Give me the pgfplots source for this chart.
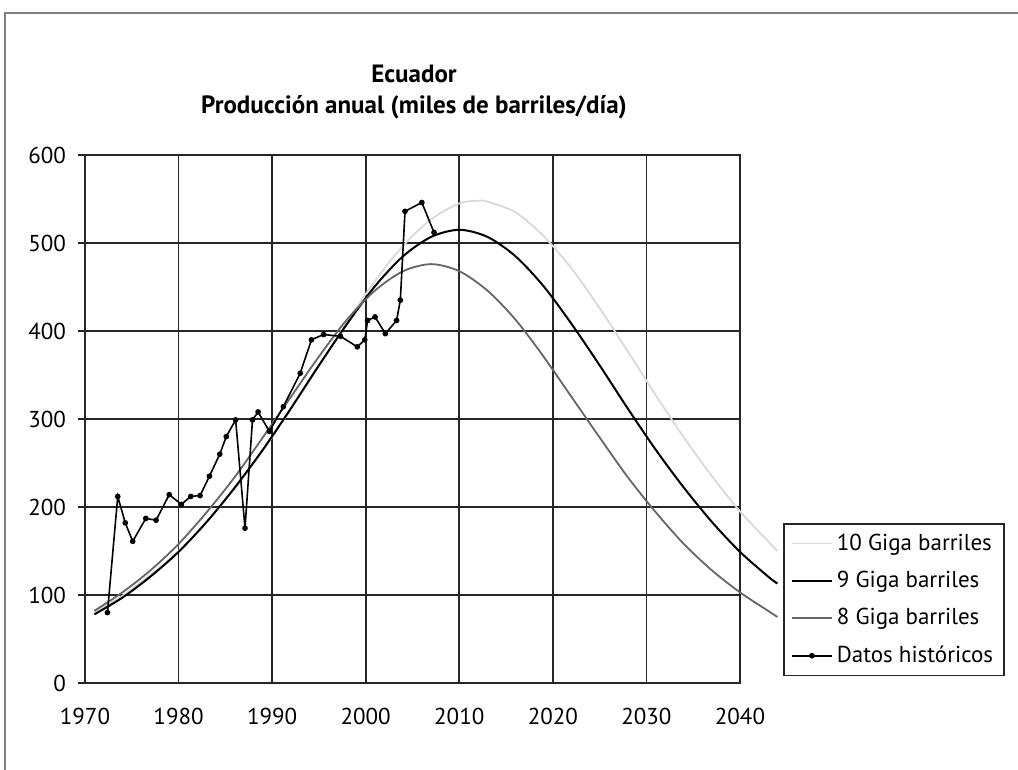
\documentclass[border=0pt]{standalone}
\usepackage{pgfplots}
\pgfplotsset{compat=1.18}
\usepackage{fontspec}
\setmainfont{PT Sans}

% produccion de petroleo, Ecuador (miles de barriles/dia)
\pgfplotstableread{
year prod
1971 80
1974 99
1977 123
1980 150
1983 183
1986 221
1989 264
1992 311
1995 360
1998 410
2001 457
2004 497
2007 527
2010 545
2012 548
2013 547
2016 535
2019 508
2022 471
2025 426
2028 377
2031 327
2034 279
2037 235
2040 195
2043 161
2044 150
}\diezgiga

\pgfplotstableread{
year prod
1971 78
1974 97
1977 121
1980 149
1983 183
1986 222
1989 265
1992 312
1995 361
1998 408
2001 451
2004 485
2007 507
2010 515
2013 507
2016 485
2019 451
2022 408
2025 361
2028 312
2031 265
2034 222
2037 183
2040 149
2043 121
2044 113
}\nuevegiga

\pgfplotstableread{
year prod
1971 82
1974 103
1977 128
1980 158
1983 194
1986 234
1989 279
1992 325
1995 371
1998 413
2001 446
2004 468
2007 476
2010 468
2013 446
2016 413
2019 371
2022 325
2025 279
2028 234
2031 194
2034 158
2037 128
2040 103
2043 82
2044 75
}\ochogiga

\pgfplotstableread{
year prod
1972.4 80
1973.5 212
1974.3 182
1975.1 161
1976.5 187
1977.6 185
1979.0 214
1980.3 203
1981.3 212
1982.3 213
1983.3 235
1984.4 260
1985.1 280
1986.1 299
1987.1 176
1987.9 299
1988.5 308
1989.7 286
1991.2 314
1993.0 352
1994.2 390
1995.5 396
1997.3 394
1999.1 382
1999.9 390
2000.2 412
2001.0 416
2002.1 397
2003.3 412
2003.7 435
2004.2 536
2006.0 546
2007.3 512
}\historicos

\begin{document}
\begin{tikzpicture}
\useasboundingbox (0,0) rectangle (509pt,385pt);
% marco exterior
\draw[gray, line width=0.8pt] (2.5pt,0) -- (2.5pt,378.5pt) -- (509pt,378.5pt);
\node[font=\bfseries\fontsize{12.5}{15.5}\selectfont, align=center] at (207pt,339pt)
  {Ecuador\\Producción anual (miles de barriles/día)};
\begin{axis}[
    at={(42.5pt,43.5pt)}, anchor=south west,
    scale only axis,
    width=327.5pt, height=264pt,
    xmin=1970, xmax=2040,
    ymin=0, ymax=600,
    xtick={1970,1980,...,2040},
    ytick={0,100,...,600},
    grid=major,
    major grid style={black!85, line width=0.8pt},
    axis line style={black!85, line width=0.8pt},
    tick style={black!85, line width=0.8pt},
    xtick style={draw=none},
    ytick pos=left,
    tick align=outside,
    major tick length=3.5pt,
    xticklabel style={yshift=-5.5pt},
    yticklabel style={xshift=-2.5pt},
    ticklabel style={font=\fontsize{11.5}{13}\selectfont},
    /pgf/number format/1000 sep={},
    /pgf/number format/assume math mode=true,
    clip=false,
    legend style={at={(1.066,0.303)}, anchor=north west,
      draw=black!85, line width=0.8pt,
      font=\fontsize{11.5}{13}\selectfont,
      row sep=5pt, inner xsep=3.5pt, inner ysep=3pt,
      cells={anchor=west}},
    legend image code/.code={%
      \draw[mark repeat=2,mark phase=2,#1] plot coordinates {(0cm,0cm) (0.35cm,0cm) (0.7cm,0cm)};},
]
\addplot[gray!30, line width=0.9pt, smooth] table[x=year, y=prod] {\diezgiga};
\addlegendentry{10 Giga barriles}
\addplot[black, line width=1pt, smooth] table[x=year, y=prod] {\nuevegiga};
\addlegendentry{9 Giga barriles}
\addplot[black!60, line width=0.9pt, smooth] table[x=year, y=prod] {\ochogiga};
\addlegendentry{8 Giga barriles}
\addplot[black, line width=0.8pt, mark=*, mark size=1pt] table[x=year, y=prod] {\historicos};
\addlegendentry{Datos históricos}
\end{axis}
\end{tikzpicture}
\end{document}
